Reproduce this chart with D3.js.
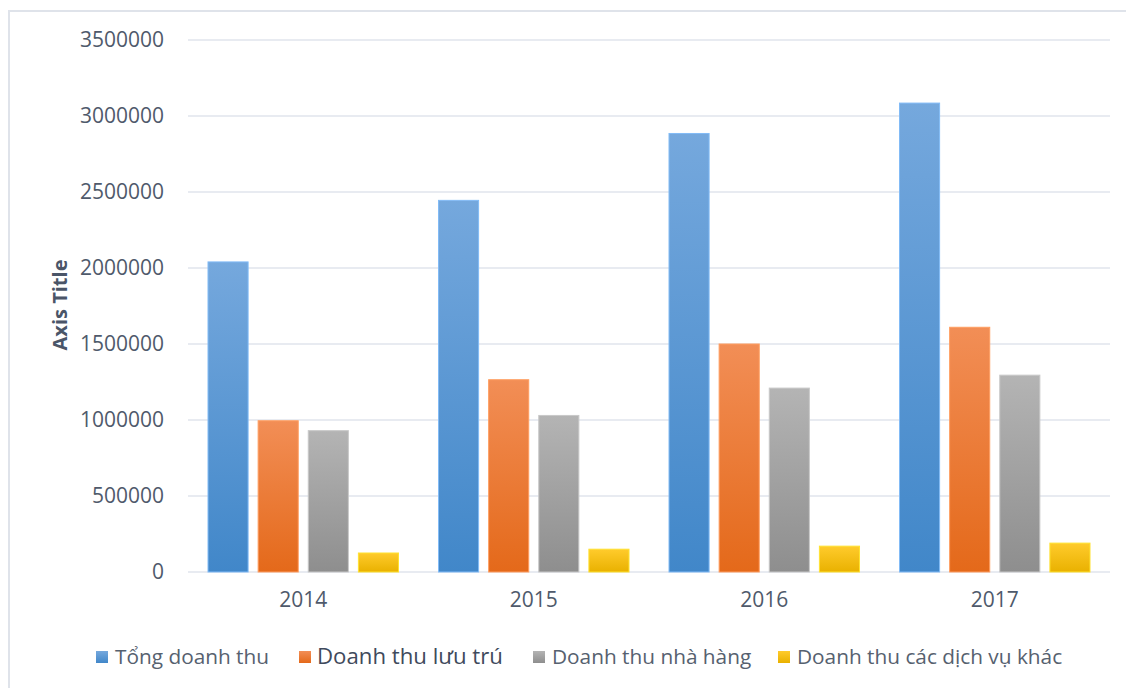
<!DOCTYPE html>
<html>
<head>
<meta charset="utf-8">
<script src="https://cdn.jsdelivr.net/npm/d3@7"></script>
<style>
  body{margin:0;background:#fff;}
  text{font-family:"Open Sans",sans-serif;}
</style>
</head>
<body>
<div class="canvas"></div>
<script>
// data
const years=['2014','2015','2016','2017'];
const seriesNames=['Tổng doanh thu','Doanh thu lưu trú','Doanh thu nhà hàng','Doanh thu các dịch vụ khác'];
const tongDoanhThu=[2040000,2445000,2885000,3085000];
const luuTru=[995000,1265000,1500000,1610000];
const nhaHang=[930000,1030000,1210000,1295000];
const dichVuKhac=[125000,150000,170000,190000];
const yTicks=[0,500000,1000000,1500000,2000000,2500000,3000000,3500000];

const series=[tongDoanhThu,luuTru,nhaHang,dichVuKhac];
// gradient colours top -> bottom
const grads=[['#75a8dd','#4187c9'],['#f28e56','#e4691a'],['#b4b4b4','#8e8e8e'],['#ffcb2c','#e9b100']];

const dims={width:1126,height:688};
const plot={left:188,right:1110,top:40,bottom:572};

const svg=d3.select('.canvas')
.append('svg')
.attr('width',dims.width)
.attr('height',dims.height);

// outer frame
svg.append('rect')
.attr('x',9).attr('y',11)
.attr('width',1130).attr('height',700)
.attr('fill','none')
.attr('stroke','#dfe3ea')
.attr('stroke-width',2);

const defs=svg.append('defs');
grads.forEach((g,i)=>{
  const lg=defs.append('linearGradient')
  .attr('id','g'+i)
  .attr('x1',0).attr('y1',0).attr('x2',0).attr('y2',1);
  lg.append('stop').attr('offset','0%').attr('stop-color',g[0]);
  lg.append('stop').attr('offset','100%').attr('stop-color',g[1]);
});

const y=d3.scaleLinear()
.domain([0,3500000])
.range([plot.bottom,plot.top]);

const x0=d3.scaleBand()
.domain(years)
.range([plot.left,plot.right]);

const x1=d3.scaleBand()
.domain(d3.range(series.length))
.range([20,x0.bandwidth()-20])
.paddingInner(0.2);

// gridlines
svg.append('g')
.selectAll('line')
.data(yTicks)
.enter().append('line')
.attr('x1',plot.left).attr('x2',plot.right)
.attr('y1',d=>y(d)).attr('y2',d=>y(d))
.attr('stroke','#e1e5ed')
.attr('stroke-width',1.5);

// y labels
const yAxis=d3.axisLeft(y).tickValues(yTicks).tickSize(0).tickPadding(0).tickFormat(d3.format('d'));
const yG=svg.append('g')
.attr('transform','translate(164,0)')
.call(yAxis);
yG.select('.domain').remove();
yG.selectAll('text')
.attr('font-size',21)
.attr('fill','#4f5a6b')
.attr('font-family','"Open Sans",sans-serif');

// x labels
const xAxis=d3.axisBottom(x0).tickSize(0).tickPadding(0);
const xG=svg.append('g')
.attr('transform',`translate(0,${plot.bottom+20})`)
.call(xAxis);
xG.select('.domain').remove();
xG.selectAll('text')
.attr('font-size',21)
.attr('fill','#4f5a6b')
.attr('font-family','"Open Sans",sans-serif');

// axis title
svg.append('text')
.attr('transform','translate(67,305) rotate(-90)')
.attr('text-anchor','middle')
.attr('font-size',20)
.attr('font-weight','bold')
.attr('fill','#4a5568')
.text('Axis Title');

// bars
const groups=svg.append('g')
.selectAll('g')
.data(years)
.enter().append('g')
.attr('transform',d=>`translate(${x0(d)},0)`);

groups.selectAll('rect')
.data((d,yi)=>series.map((s,si)=>({si,v:s[yi]})))
.enter().append('rect')
.attr('x',d=>x1(d.si))
.attr('width',x1.bandwidth())
.attr('y',d=>y(d.v))
.attr('height',d=>y(0)-y(d.v))
.attr('fill',d=>`url(#g${d.si})`)
.attr('stroke',d=>d3.color(grads[d.si][0]).brighter(0.3))
.attr('stroke-width',1);

// legend
const legendX=[96,299,533,778];
const legend=svg.append('g')
.selectAll('g')
.data(seriesNames)
.enter().append('g')
.attr('transform',(d,i)=>`translate(${legendX[i]},651)`);

legend.append('rect')
.attr('width',12).attr('height',12)
.attr('fill',(d,i)=>`url(#g${i})`);

legend.append('text')
.attr('x',(d,i)=>i==1?18:19)
.attr('y',13)
.attr('font-size',(d,i)=>i==1?22.2:20.8)
.attr('fill',(d,i)=>i==1?'#3f4a5c':'#56616f')
.text(d=>d);
</script>
</body>
</html>
